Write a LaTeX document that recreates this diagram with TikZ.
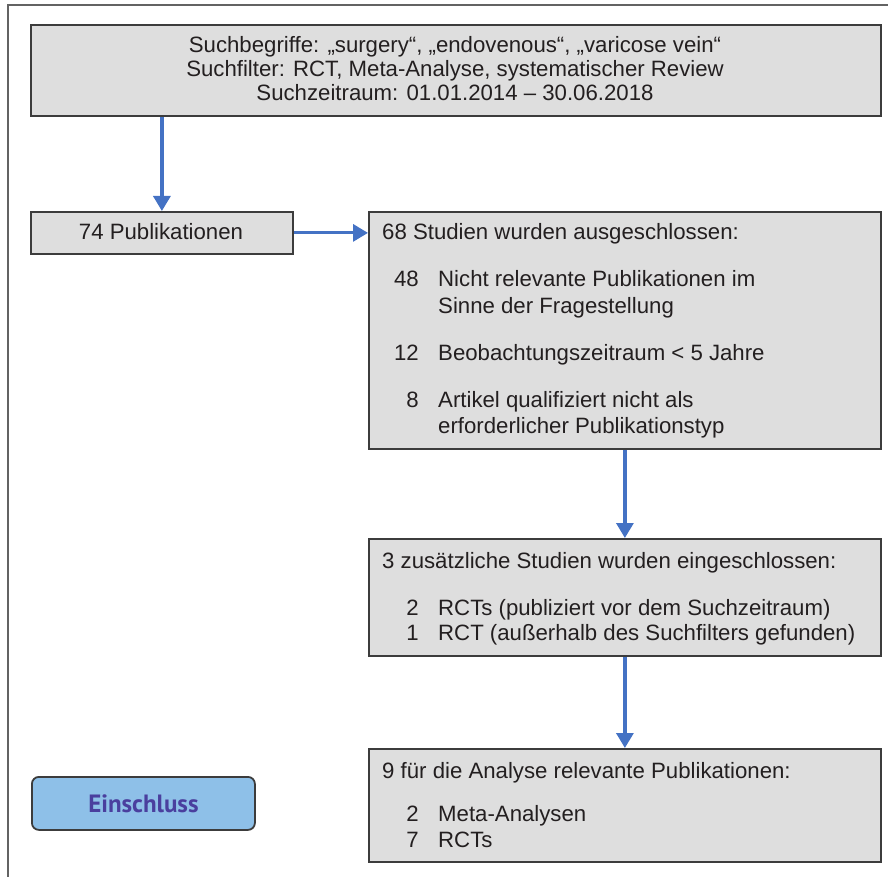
\documentclass[tikz,border=0pt]{standalone}
\usepackage{fontspec}
\setmainfont{Liberation Sans}
\newfontfamily\einfont{PT Sans}
\usetikzlibrary{arrows.meta}
\definecolor{boxfill}{HTML}{DEDEDE}
\definecolor{boxline}{HTML}{3C3C3C}
\definecolor{arrblue}{HTML}{4472C4}
\definecolor{einfill}{HTML}{8EC0E8}
\definecolor{eintext}{HTML}{4A3F9E}
\definecolor{txt}{HTML}{231F20}
\tikzset{
  box/.style={draw=boxline, fill=boxfill, line width=1.8pt, anchor=north west, inner sep=0pt},
  lbl/.style={anchor=base west, inner sep=0pt, font=\fontsize{22.2}{26}\selectfont, text=txt},
  num/.style={anchor=base east, inner sep=0pt, font=\fontsize{22.2}{26}\selectfont, text=txt},
  ctr/.style={anchor=base, inner sep=0pt, font=\fontsize{22.2}{26}\selectfont, text=txt},
  arr/.style={draw=arrblue, line width=3.2pt, -{Triangle[length=15pt,width=17pt]}},
}
\begin{document}
\begin{tikzpicture}[x=1pt,y=-1pt]
\useasboundingbox (0,0) rectangle (888,877);
\draw[boxline!80, line width=1.5pt] (888,5) -- (8,5) -- (8,877);
% boxes
\node[box, minimum width=850, minimum height=91] (top) at (30,24) {};
\node[box, minimum width=262, minimum height=42] (p74) at (30,211) {};
\node[box, minimum width=512, minimum height=237] (ex) at (368,211) {};
\node[box, minimum width=512, minimum height=117] (add) at (368,538) {};
\node[box, minimum width=512, minimum height=113] (fin) at (368,748) {};
\node[draw=boxline, fill=einfill, line width=1.8pt, rounded corners=7pt, minimum width=223, minimum height=53, anchor=north west, inner sep=0pt] (ein) at (31,776) {};
% top texts
\node[ctr] (t1) at (455,53) {Suchbegriffe: „surgery“, „endovenous“, „varicose vein“};
\node[ctr] (t2) at (455,77) {Suchfilter: RCT, Meta-Analyse, systematischer Review};
\node[ctr] (t3) at (455,101) {Suchzeitraum: 01.01.2014 – 30.06.2018};
\node[ctr] (t4) at (161,240) {74 Publikationen};
% excluded
\node[lbl] (e0) at (382,240) {68 Studien wurden ausgeschlossen:};
\node[num] (e1n) at (419,286) {48};
\node[lbl] (e1) at (438,286) {Nicht relevante Publikationen im};
\node[lbl] (e1b) at (438,313) {Sinne der Fragestellung};
\node[num] (e2n) at (419,360) {12};
\node[lbl] (e2) at (438,360) {Beobachtungszeitraum < 5 Jahre};
\node[num] (e3n) at (419,407) {8};
\node[lbl] (e3) at (438,407) {Artikel qualifiziert nicht als};
\node[lbl] (e3b) at (438,433) {erforderlicher Publikationstyp};
% added
\node[lbl] (a0) at (382,568) {3 zusätzliche Studien wurden eingeschlossen:};
\node[num] (a1n) at (419,615) {2};
\node[lbl] (a1) at (438,615) {RCTs (publiziert vor dem Suchzeitraum)};
\node[num] (a2n) at (419,640) {1};
\node[lbl] (a2) at (438,640) {RCT (außerhalb des Suchfilters gefunden)};
% final
\node[lbl] (f0) at (382,778) {9 für die Analyse relevante Publikationen:};
\node[num] (f1n) at (419,821) {2};
\node[lbl] (f1) at (438,821) {Meta-Analysen};
\node[num] (f2n) at (419,847) {7};
\node[lbl] (f2) at (438,847) {RCTs};
\node[anchor=center, inner sep=0pt, text=eintext, font=\einfont\bfseries\fontsize{25}{29}\selectfont] (eint) at (ein.center) {Einschluss};
% arrows
\draw[arr] (p74.north |- top.south) -- (p74.north);
\draw[arr] (p74.east) -- (ex.west |- p74.east);
\draw[arr] (ex.south) -- (add.north);
\draw[arr] (add.south) -- (fin.north);
\end{tikzpicture}
\end{document}
